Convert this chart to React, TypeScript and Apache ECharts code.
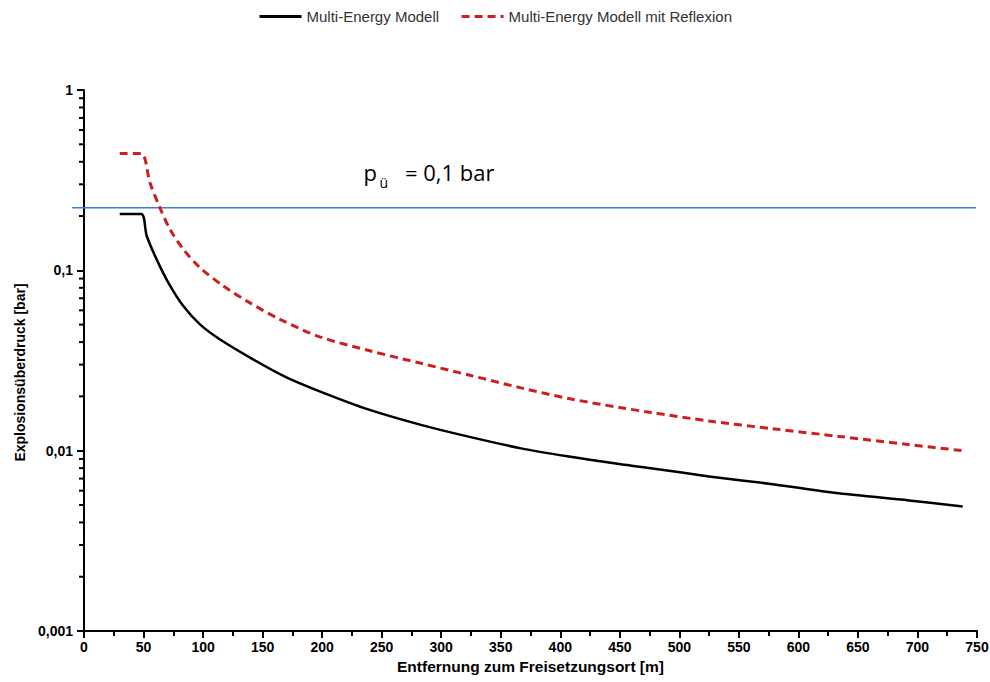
import React, { useEffect, useRef } from "react";
import * as echarts from "echarts";

// Distance from release point [m] and overpressure [bar]
const blackDist = [30, 48, 52.7, 61, 70.8, 83.4, 97.4, 114, 142, 170, 199, 238, 283, 322, 367, 406, 451, 476, 525, 580, 634, 693, 738];
const blackVals = [0.205, 0.205, 0.155, 0.115, 0.0855, 0.0634, 0.0502, 0.0415, 0.0321, 0.0255, 0.0212, 0.017, 0.0139, 0.012, 0.0103, 0.0093, 0.0084, 0.008, 0.0072, 0.0065, 0.0058, 0.0053, 0.0049];

const redDist = [30, 48, 55.4, 63.8, 72.2, 83.4, 97.4, 117, 139.4, 164.6, 198, 240, 283, 324, 367, 408, 451, 476, 525, 580, 634, 693, 738];
const redVals = [0.444, 0.444, 0.306, 0.222, 0.169, 0.131, 0.1035, 0.082, 0.066, 0.0535, 0.0428, 0.0358, 0.0305, 0.0262, 0.0223, 0.0194, 0.0173, 0.0163, 0.0146, 0.0132, 0.012, 0.0108, 0.01];

const thresholdValue = 0.222;

const seriesNames = ["Multi-Energy Modell", "Multi-Energy Modell mit Reflexion"];
const yTickLabels = ["0,001", "0,01", "0,1", "1"];
const yMinorTicks = [
  0.002, 0.003, 0.004, 0.005, 0.006, 0.007, 0.008, 0.009,
  0.02, 0.03, 0.04, 0.05, 0.06, 0.07, 0.08, 0.09,
  0.2, 0.3, 0.4, 0.5, 0.6, 0.7, 0.8, 0.9,
];

const FONT = "'Liberation Sans', Arial, sans-serif";
const ANNOT_FONT = "'Open Sans', Lato, sans-serif";

export default function App() {
  const ref = useRef<HTMLDivElement>(null);

  useEffect(() => {
    if (!ref.current) return;
    const chart = echarts.init(ref.current, undefined, { renderer: "svg" });
    const option: any = {
      animation: false,
      backgroundColor: "#ffffff",
      textStyle: { fontFamily: FONT },
      legend: {
        data: seriesNames,
        left: "center",
        top: 4,
        itemWidth: 42,
        itemHeight: 12,
        itemGap: 21,
        itemStyle: { opacity: 0 },
        lineStyle: { width: 3 },
        textStyle: { fontSize: 15, color: "#333", fontFamily: FONT },
      },
      grid: { left: 84, right: 13, top: 90, bottom: 51, containLabel: false, outerBoundsMode: "none" },
      xAxis: {
        type: "value",
        min: 0,
        max: 750,
        interval: 50,
        name: "Entfernung zum Freisetzungsort [m]",
        nameLocation: "middle",
        nameGap: 26,
        nameTextStyle: { fontSize: 15.5, fontWeight: "bold", color: "#000", fontFamily: FONT },
        axisLine: { show: true, onZero: false, lineStyle: { color: "#000", width: 2 } },
        axisTick: { show: true, length: 7, lineStyle: { color: "#000", width: 2 } },
        minorTick: { show: true, splitNumber: 2, length: 5, lineStyle: { color: "#000", width: 2 } },
        axisLabel: { fontSize: 14, fontWeight: "bold", color: "#000", margin: 9, fontFamily: FONT },
        splitLine: { show: false },
        minorSplitLine: { show: false },
      },
      yAxis: {
        type: "log",
        logBase: 10,
        min: 0.001,
        max: 1,
        name: "Explosionsüberdruck [bar]",
        nameLocation: "middle",
        nameGap: 57,
        nameRotate: 90,
        nameTextStyle: { fontSize: 14, fontWeight: "bold", color: "#000", fontFamily: FONT, padding: [0, 24, 0, 0] },
        axisLine: { show: true, lineStyle: { color: "#000", width: 2 } },
        axisTick: { show: true, length: 7, lineStyle: { color: "#000", width: 2 } },
        axisLabel: {
          fontSize: 14,
          fontWeight: "bold",
          color: "#000",
          margin: 11,
          fontFamily: FONT,
          formatter: (v: number) => yTickLabels[Math.round(Math.log10(v)) + 3],
        },
        splitLine: { show: false },
      },
      graphic: [
        {
          type: "text",
          x: 363.5,
          y: 172,
          style: { text: "p", font: `22px ${ANNOT_FONT}`, fill: "#000", verticalAlign: "middle", align: "left" },
        },
        {
          type: "text",
          x: 379.5,
          y: 182,
          style: { text: "ü", font: `14px ${ANNOT_FONT}`, fill: "#000", verticalAlign: "middle", align: "left" },
        },
        {
          type: "text",
          x: 405,
          y: 172,
          style: { text: "= 0,1 bar", font: `22px ${ANNOT_FONT}`, fill: "#000", verticalAlign: "middle", align: "left" },
        },
      ],
      series: [
        {
          name: seriesNames[0],
          type: "line",
          data: blackDist.map((d, i) => [d, blackVals[i]]),
          showSymbol: false,
          symbol: "none",
          smooth: 0.3,
          lineStyle: { color: "#000", width: 2.5 },
          itemStyle: { color: "#000" },
          z: 3,
        },
        {
          name: seriesNames[1],
          type: "line",
          data: redDist.map((d, i) => [d, redVals[i]]),
          showSymbol: false,
          symbol: "none",
          smooth: 0.3,
          lineStyle: { color: "#cc1f1f", width: 3, type: [8, 5] },
          itemStyle: { color: "#cc1f1f" },
          z: 3,
        },
        {
          type: "custom",
          silent: true,
          clip: false,
          data: [[0, thresholdValue]],
          renderItem: (_params: any, api: any) => {
            const v = api.value(1);
            const p0 = api.coord([0, v]);
            const p1 = api.coord([750, v]);
            return {
              type: "line",
              shape: { x1: p0[0] - 12, y1: p0[1], x2: p1[0] - 1, y2: p1[1] },
              style: { stroke: "#3a7be0", lineWidth: 1.5 },
            };
          },
          z: 2,
        },
        {
          type: "custom",
          silent: true,
          clip: false,
          data: yMinorTicks.map((v) => [0, v]),
          renderItem: (_params: any, api: any) => {
            const v = api.value(1);
            const p = api.coord([0, v]);
            return {
              type: "line",
              shape: { x1: p[0] - 5, y1: p[1], x2: p[0], y2: p[1] },
              style: { stroke: "#000", lineWidth: 2 },
            };
          },
          z: 4,
        },
      ],
    };
    chart.setOption(option);
    return () => chart.dispose();
  }, []);

  return <div ref={ref} style={{ width: 990, height: 682, position: "absolute", left: 0, top: 0 }} />;
}
